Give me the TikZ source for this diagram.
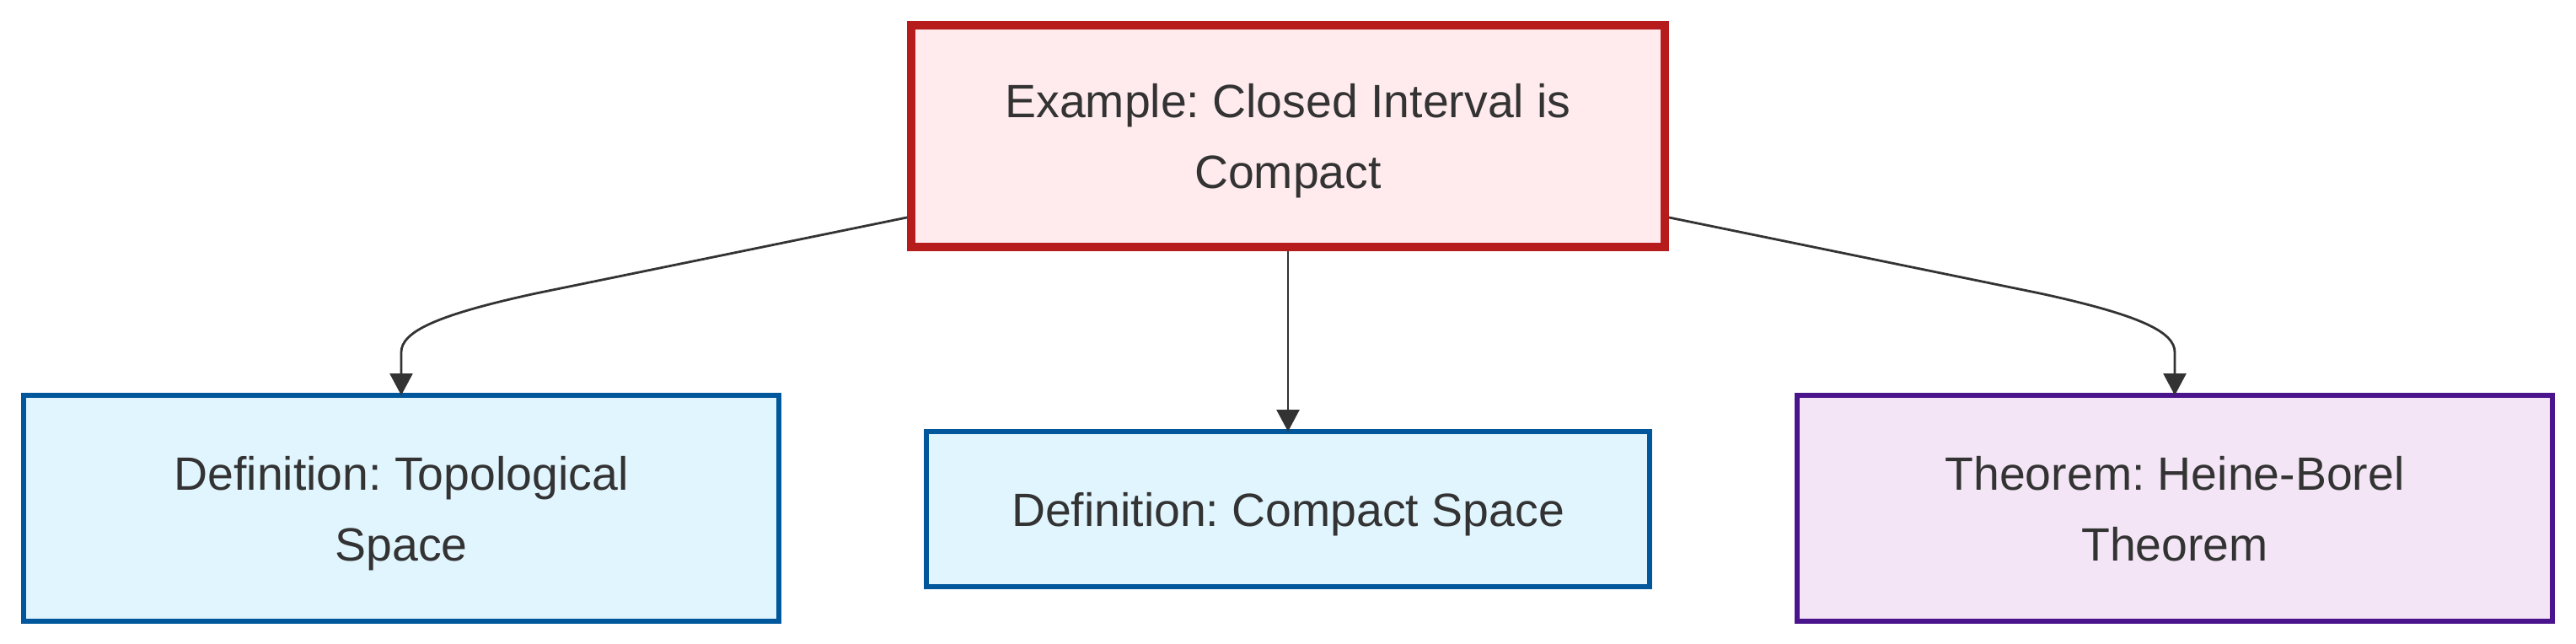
\documentclass[tikz,border=0pt]{standalone}
\usepackage{fontspec}
\setmainfont{Liberation Sans}
\usetikzlibrary{arrows.meta}
\frenchspacing
\definecolor{txt}{HTML}{333333}
\definecolor{exred}{HTML}{B71C1C}
\definecolor{exfill}{HTML}{FFEBEE}
\definecolor{defblue}{HTML}{01579B}
\definecolor{deffill}{HTML}{E1F5FE}
\definecolor{thmpurple}{HTML}{4A148C}
\definecolor{thmfill}{HTML}{F3E5F5}
\begin{document}
\begin{tikzpicture}[
    x=1pt, y=1pt,
    every node/.style={font=\fontsize{27.7}{42}\selectfont, align=center, text=txt},
    block/.style={rectangle, inner sep=0pt, line width=3pt,
                  text height=62pt, text depth=0pt},
    example/.style={block, draw=exred, fill=exfill, line width=5pt,
                    minimum width=447pt, minimum height=131.5pt},
    defn/.style={block, draw=defblue, fill=deffill,
                 minimum width=448pt, minimum height=134pt},
    thm/.style={block, draw=thmpurple, fill=thmfill,
                minimum width=448pt, minimum height=134pt},
    arr/.style={-{Triangle[length=13pt, width=13.5pt]}, line width=1.4pt, draw=txt,
                shorten >=-1.5pt},
]
    \useasboundingbox (0, 0) rectangle (1528, -382);
    \node[example] (ex) at (764, -80.75) {Example: Closed Interval is\\ Compact};
    \node[defn] (topo) at (238, -301.5) {Definition: Topological\\ Space};
    \node[defn, minimum width=429pt, minimum height=92pt, text height=20pt] (cpt)
        at (764, -302) {Definition: Compact Space};
    \node[thm] (hb) at (1290, -301.5) {Theorem: Heine-Borel\\ Theorem};
    \draw[arr] ([yshift=20pt]ex.south west) -- ++(-220, -45)
        .. controls +(-60, -13) and +(0, 12) .. ([yshift=24pt]topo.north) -- (topo.north);
    \draw[arr] (ex.south) -- (cpt.north);
    \draw[arr] ([yshift=20pt]ex.south east) -- ++(220, -45)
        .. controls +(60, -13) and +(0, 12) .. ([yshift=24pt]hb.north) -- (hb.north);
\end{tikzpicture}
\end{document}
